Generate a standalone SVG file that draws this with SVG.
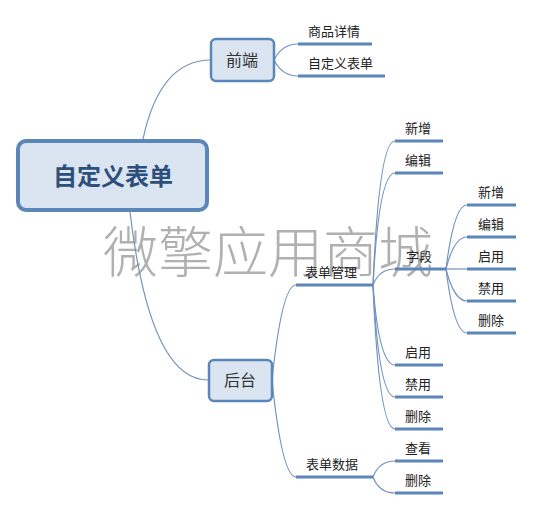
<svg xmlns="http://www.w3.org/2000/svg" width="534" height="510" viewBox="0 0 534 510">
<style>
.lbl{font-family:"Noto Sans CJK SC","Liberation Sans",sans-serif;font-size:13px;fill:#222}
.mid{font-family:"Noto Sans CJK SC","Liberation Sans",sans-serif;font-size:16px;fill:#333;text-anchor:middle}
.ul{stroke:#5a86ba;stroke-width:3;fill:none}
.cv{stroke:#7293bf;stroke-width:1.2;fill:none}
.box{fill:#dbe5f1;stroke:#5a86ba;stroke-width:2.5}
</style>
<rect width="534" height="510" fill="#fff"/>
<text x="268" y="272" text-anchor="middle" font-family="Noto Sans CJK SC,sans-serif" font-size="55" font-weight="300" fill="#a8a8a8" opacity="0.9">微擎应用商城</text>
<g id="connectors">
<path class="cv" d="M143 139 Q160 60 211 60"/>
<path class="cv" d="M130 212 Q150 380 208 380"/>
<path class="cv" d="M274 60 Q282 44 298 44"/>
<path class="cv" d="M274 60 Q282 76 298 76"/>
<path class="cv" d="M272 380 Q282 285 296 285"/>
<path class="cv" d="M272 380 Q282 477 296 477"/>
<path class="cv" d="M373 285 Q379 141 395 141"/>
<path class="cv" d="M373 285 Q379 173 395 173"/>
<path class="cv" d="M373 285 Q379 269 395 269"/>
<path class="cv" d="M373 285 Q379 365 395 365"/>
<path class="cv" d="M373 285 Q379 397 395 397"/>
<path class="cv" d="M373 285 Q379 429 395 429"/>
<path class="cv" d="M373 477 Q379 461 395 461"/>
<path class="cv" d="M373 477 Q379 493 395 493"/>
<path class="cv" d="M446 269 Q454 205 467 205"/>
<path class="cv" d="M446 269 Q454 237 467 237"/>
<path class="cv" d="M446 269 L467 269"/>
<path class="cv" d="M446 269 Q454 301 467 301"/>
<path class="cv" d="M446 269 Q454 333 467 333"/>
</g>
<g id="root">
<rect x="18" y="141" width="189" height="69" rx="8" fill="#dbe5f1" stroke="#5a86ba" stroke-width="4"/>
<text x="113" y="185" text-anchor="middle" font-family="Noto Sans CJK SC,sans-serif" font-size="24" font-weight="bold" fill="#2d4f7c">自定义表单</text>
</g>
<g id="qianduan">
<rect class="box" x="211" y="39" width="63" height="42" rx="5"/>
<text class="mid" x="242" y="66">前端</text>
</g>
<g id="houtai">
<rect class="box" x="209" y="360" width="63" height="41" rx="5"/>
<text class="mid" x="240" y="386">后台</text>
</g>
<g id="spxq"><path class="ul" d="M298 44 H372"/><text class="lbl" x="308" y="36">商品详情</text></g>
<g id="zdybd"><path class="ul" d="M298 76 H385"/><text class="lbl" x="308" y="68">自定义表单</text></g>
<g id="bdgl"><path class="ul" d="M296 285 H373"/><text class="lbl" x="305" y="277">表单管理</text></g>
<g id="bdsj"><path class="ul" d="M296 477 H373"/><text class="lbl" x="306" y="469">表单数据</text></g>
<g id="xz1"><path class="ul" d="M395 141 H443"/><text class="lbl" x="405" y="133">新增</text></g>
<g id="bj1"><path class="ul" d="M395 173 H443"/><text class="lbl" x="405" y="165">编辑</text></g>
<g id="zd"><path class="ul" d="M395 269 H446"/><text class="lbl" x="406" y="261">字段</text></g>
<g id="qy1"><path class="ul" d="M395 365 H443"/><text class="lbl" x="405" y="357">启用</text></g>
<g id="jy1"><path class="ul" d="M395 397 H443"/><text class="lbl" x="405" y="389">禁用</text></g>
<g id="sc1"><path class="ul" d="M395 429 H443"/><text class="lbl" x="405" y="421">删除</text></g>
<g id="ck"><path class="ul" d="M395 461 H443"/><text class="lbl" x="405" y="453">查看</text></g>
<g id="sc2"><path class="ul" d="M395 493 H443"/><text class="lbl" x="405" y="485">删除</text></g>
<g id="xz2"><path class="ul" d="M467 205 H516"/><text class="lbl" x="478" y="197">新增</text></g>
<g id="bj2"><path class="ul" d="M467 237 H516"/><text class="lbl" x="478" y="229">编辑</text></g>
<g id="qy2"><path class="ul" d="M467 269 H516"/><text class="lbl" x="478" y="261">启用</text></g>
<g id="jy2"><path class="ul" d="M467 301 H516"/><text class="lbl" x="478" y="293">禁用</text></g>
<g id="sc3"><path class="ul" d="M467 333 H516"/><text class="lbl" x="478" y="325">删除</text></g>
</svg>
